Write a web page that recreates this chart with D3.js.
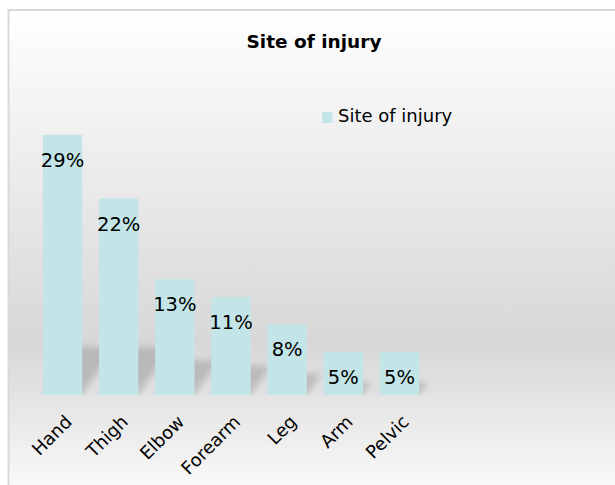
<!DOCTYPE html>
<html>
<head>
<meta charset="utf-8">
<script src="https://cdn.jsdelivr.net/npm/d3@7"></script>
<style>
  body { margin: 0; background: #ffffff; }
  text { font-family: "DejaVu Sans", Verdana, sans-serif; fill: #000; }
</style>
</head>
<body>
<div class="chartContainer"></div>
<script>
//chart data
const categories = ['Hand', 'Thigh', 'Elbow', 'Forearm', 'Leg', 'Arm', 'Pelvic'];
const values = [29.0, 21.9, 12.9, 10.9, 7.9, 4.8, 4.8];
const seriesName = 'Site of injury';
const chartTitle = 'Site of injury';

//format data labels as whole percents
function formatLabel(d){
    return d3.format('.0f')(d) + '%';
}

function ready(){
    const width = 615;
    const height = 485;

    //plot area
    const plot = {left: 26, right: 436, top: 81, bottom: 395};

    const svg = d3.select('.chartContainer')
        .append('svg')
        .attr('width', width)
        .attr('height', height);

    const defs = svg.append('defs');

    //background gradient white -> gray -> white
    const grad = defs.append('linearGradient')
        .attr('id', 'bgGrad')
        .attr('x1', 0).attr('y1', 0)
        .attr('x2', 0).attr('y2', 1);
    grad.append('stop').attr('offset', '0%').attr('stop-color', '#ffffff');
    grad.append('stop').attr('offset', '68%').attr('stop-color', '#d7d7d7');
    grad.append('stop').attr('offset', '100%').attr('stop-color', '#fcfcfc');

    //blur for the perspective shadow
    defs.append('filter')
        .attr('id', 'shadowBlur')
        .attr('x', '-50%').attr('y', '-50%')
        .attr('width', '200%').attr('height', '200%')
        .append('feGaussianBlur')
        .attr('stdDeviation', 3.5);

    //shadows never go below the baseline
    defs.append('clipPath')
        .attr('id', 'aboveBase')
        .append('rect')
        .attr('x', 0).attr('y', 0)
        .attr('width', width).attr('height', plot.bottom);

    //chart area with border (right and bottom edges fall outside the picture)
    svg.append('rect')
        .attr('x', 8.5)
        .attr('y', 10)
        .attr('width', 620)
        .attr('height', 490)
        .style('fill', 'url(#bgGrad)')
        .style('stroke', '#d9d9d9')
        .style('stroke-width', 2);

    //scales
    const xScale = d3.scaleBand()
        .domain(categories)
        .range([plot.left, plot.right])
        .paddingInner(0.3)
        .paddingOuter(0.3);

    const yScale = d3.scaleLinear()
        .domain([0, 35])
        .range([plot.bottom, plot.top]);

    //title
    svg.append('text')
        .attr('x', 314)
        .attr('y', 48)
        .attr('text-anchor', 'middle')
        .style('font-size', '18.5px')
        .style('font-weight', 'bold')
        .text(chartTitle);

    //shadows behind bars (flattened and leaning to the upper right)
    svg.append('g')
        .attr('class', 'shadows')
        .attr('clip-path', 'url(#aboveBase)')
        .selectAll('.shadow')
        .data(values)
        .enter()
        .append('path')
        .attr('class', 'shadow')
        .attr('d', (d, i) => {
            const x0 = xScale(categories[i]);
            const x1 = x0 + xScale.bandwidth();
            const h = yScale(0) - yScale(d);
            const hs = Math.min(h * 0.3, 48);
            const dx = hs * 0.7;
            const b = yScale(0);
            return `M${x0},${b} L${x1},${b} L${x1 + dx},${b - hs} L${x0 + dx},${b - hs} Z`;
        })
        .style('fill', '#8f8f8f')
        .style('fill-opacity', 0.45)
        .attr('filter', 'url(#shadowBlur)');

    //bars
    svg.append('g')
        .attr('class', 'bars')
        .selectAll('.bar')
        .data(values)
        .enter()
        .append('rect')
        .attr('class', 'bar')
        .attr('x', (d, i) => xScale(categories[i]))
        .attr('y', d => yScale(d))
        .attr('width', xScale.bandwidth())
        .attr('height', d => yScale(0) - yScale(d))
        .style('fill', '#c3e5e8');

    //data labels inside the bar tops
    svg.append('g')
        .attr('class', 'labels')
        .selectAll('.label')
        .data(values)
        .enter()
        .append('text')
        .attr('class', 'label')
        .attr('x', (d, i) => xScale(categories[i]) + xScale.bandwidth() / 2)
        .attr('y', d => yScale(d) + 32)
        .attr('text-anchor', 'middle')
        .style('font-size', '19.5px')
        .text(formatLabel);

    //x axis with rotated category labels
    const xAxis = d3.axisBottom(xScale)
        .tickSize(0);

    const xAxisDraw = svg.append('g')
        .attr('class', 'x axis')
        .attr('transform', `translate(0, ${plot.bottom})`)
        .call(xAxis);

    xAxisDraw.select('.domain').remove();
    xAxisDraw.selectAll('text')
        .attr('y', 0)
        .attr('dy', 0)
        .attr('text-anchor', 'end')
        .attr('transform', 'translate(10.5, 28) rotate(-45)')
        .style('font-family', '"DejaVu Sans", Verdana, sans-serif')
        .style('font-size', '18px')
        .style('fill', '#000');

    //legend
    const legend = svg.append('g')
        .attr('class', 'legend')
        .attr('transform', 'translate(322, 112)');

    legend.append('rect')
        .attr('width', 10.5)
        .attr('height', 11)
        .style('fill', '#c3e5e8');

    legend.append('text')
        .attr('x', 16)
        .attr('y', 10)
        .style('font-size', '18px')
        .text(seriesName);
}

ready();
</script>
</body>
</html>
